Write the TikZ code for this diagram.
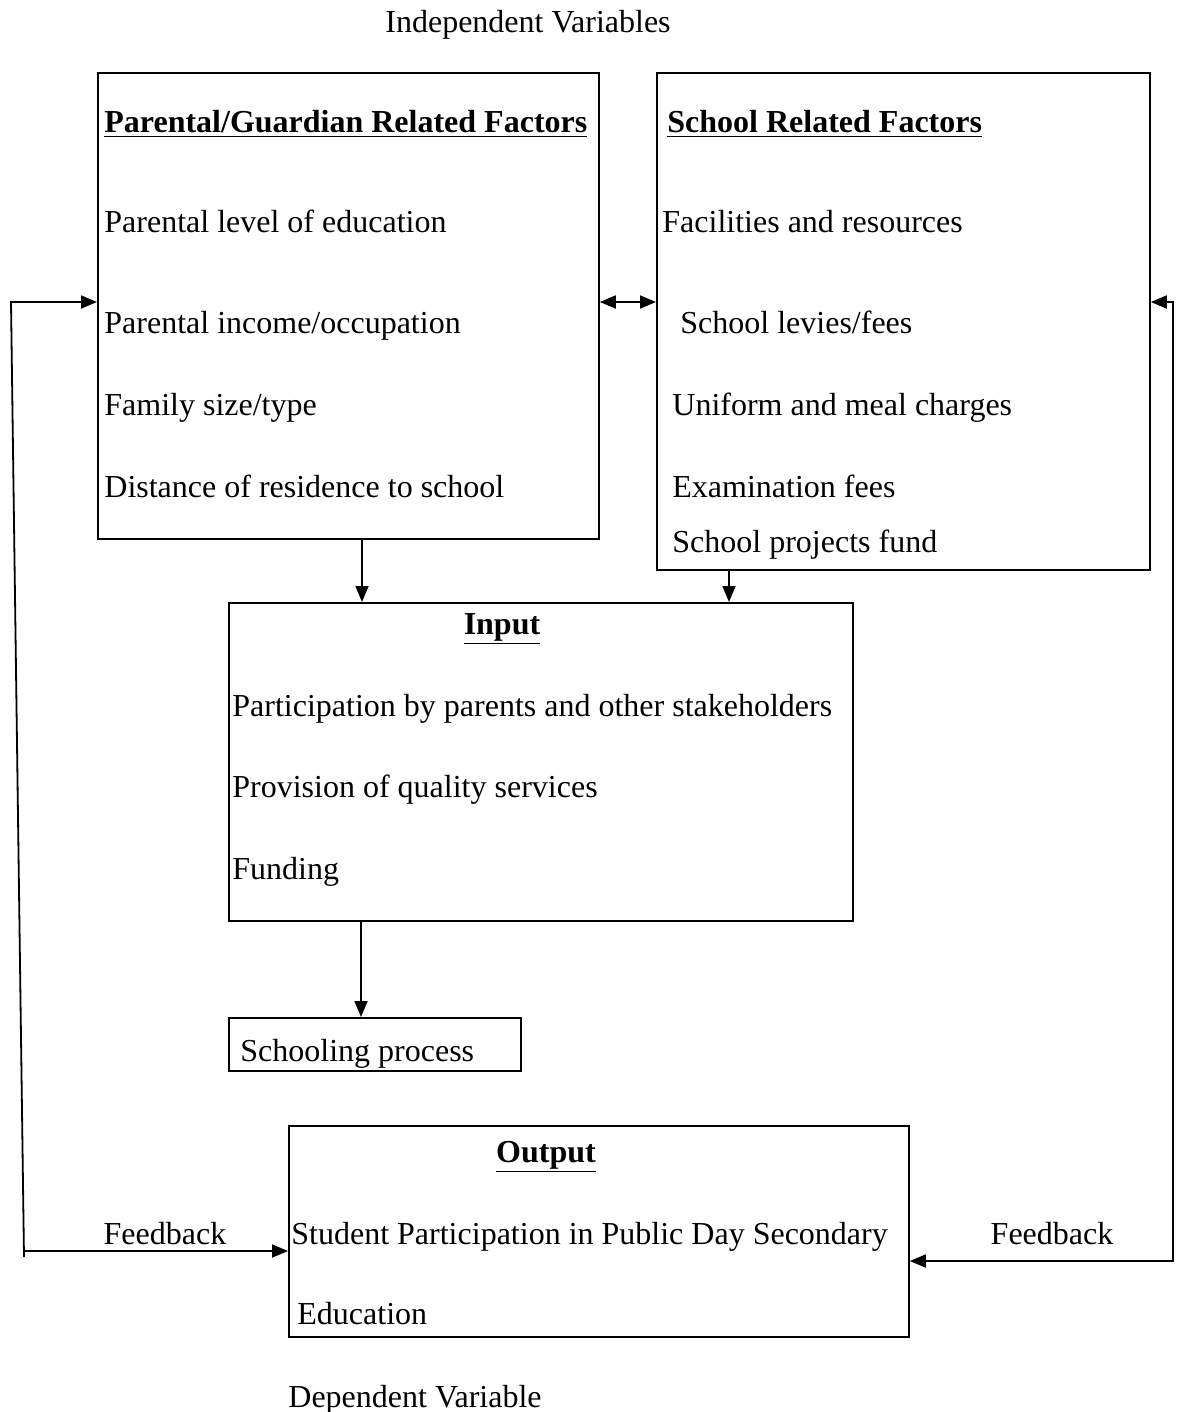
\documentclass[tikz,border=0pt]{standalone}
\usepackage{fontspec}
\setmainfont{Liberation Serif}
\usetikzlibrary{arrows.meta}
\begin{document}
\begin{tikzpicture}[x=0.5pt,y=-0.5pt,
  box/.style={draw,line width=0.9pt,inner sep=0pt,anchor=north west},
  txt/.style={anchor=west,inner sep=0pt,yshift=-3pt,text height=0.7em,text depth=0.2em,font=\fontsize{16}{19}\selectfont},
  ctxt/.style={txt,anchor=center},
  hd/.style={txt,font=\fontsize{16}{19}\selectfont\bfseries},
  chd/.style={hd,anchor=center},
  conn/.style={line width=0.9pt,-{Triangle[length=8pt,width=6.5pt]}},
  dconn/.style={line width=0.9pt,{Triangle[length=8pt,width=6.5pt]}-{Triangle[length=8pt,width=6.5pt]}}]
\useasboundingbox (0,0) rectangle (1188,1412);
% boxes
\node[box,minimum width=250.5pt,minimum height=233pt] (p) at (97,72) {};
\node[box,minimum width=246.5pt,minimum height=248.5pt] (s) at (656,72) {};
\node[box,minimum width=312pt,minimum height=159pt] (in) at (228,602) {};
\node[box,minimum width=146pt,minimum height=26.5pt] (sp) at (228,1017) {};
\node[box,minimum width=310pt,minimum height=105.5pt] (o) at (288,1125) {};
% titles
\node[ctxt] (t1) at (528,22) {Independent Variables};
\node[txt] (t2) at (288,1396) {Dependent Variable};
% box 1 text
\node[hd] (p0) at (104,122) {\underline{Parental/Guardian Related Factors}};
\node[txt] (p1) at (104,222) {Parental level of education};
\node[txt] (p2) at (104,322) {Parental income/occupation};
\node[txt] (p3) at (104,404) {Family size/type};
\node[txt] (p4) at (104,486) {Distance of residence to school};
% box 2 text
\node[hd] (s0) at (667,122) {\underline{School Related Factors}};
\node[txt] (s1) at (662,222) {Facilities and resources};
\node[txt] (s2) at (680,322) {School levies/fees};
\node[txt] (s3) at (672,404) {Uniform and meal charges};
\node[txt] (s4) at (672,486) {Examination fees};
\node[txt] (s5) at (672,541) {School projects fund};
% input text
\node[chd] (i0) at (502,623) {\underline{Input}};
\node[txt] (i1) at (232,705) {Participation by parents and other stakeholders};
\node[txt] (i2) at (232,786) {Provision of quality services};
\node[txt] (i3) at (232,868) {Funding};
% schooling
\node[txt] (sp1) at (240,1050) {Schooling process};
% output text
\node[chd] (o0) at (546,1151) {\underline{Output}};
\node[txt] (o1) at (291,1233) {Student Participation in Public Day Secondary};
\node[txt] (o2) at (297,1313) {Education};
% feedback labels
\node[ctxt] (f1) at (165,1233) {Feedback};
\node[ctxt] (f2) at (1052,1233) {Feedback};
% connectors
\draw[dconn] (p.east |- 0,302) -- (s.west |- 0,302);
\draw[conn] (p.south -| 362,0) -- (in.north -| 362,0);
\draw[conn] (s.south -| 729,0) -- (in.north -| 729,0);
\draw[conn] (in.south -| 361,0) -- (sp.north -| 361,0);
\coordinate (lb) at (24,1257);
\coordinate (lt) at (11,302);
\coordinate (rb) at (1173,1261);
\coordinate (rt) at (1173,302);
\draw[conn] (lb) -- (lt) -- (p.west |- lt);
\draw[conn] (lb |- 0,1251) -- (o.west |- 0,1251);
\draw[dconn] (s.east |- rt) -- (rt) -- (rb) -- (o.east |- rb);
\end{tikzpicture}
\end{document}
